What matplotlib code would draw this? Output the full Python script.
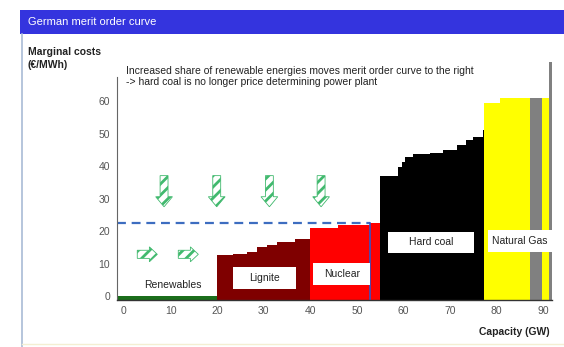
import matplotlib
matplotlib.use("Agg")
import matplotlib.pyplot as plt
from matplotlib.patches import Rectangle, FancyArrow

plt.rcParams['font.family'] = ['Liberation Sans', 'DejaVu Sans']
plt.rcParams['hatch.linewidth'] = 2.0

# ---- data (GW edges, marginal cost in EUR/MWh) ----
renew_edges = [0, 20]
renew_costs = [0]
lignite_edges = [20, 23.5, 26.3, 28.5, 30.6, 32.8, 36.7, 40]
lignite_costs = [12.6, 12.9, 13.6, 15.1, 15.7, 16.7, 17.6]
nuclear_edges = [40, 46, 52.8, 54.9]
nuclear_costs = [21.1, 21.9, 22.4]
coal_edges = [54.9, 58.9, 59.6, 60.3, 62.1, 65.7, 68.5, 71.4, 73.5, 75, 77.1, 77.3]
coal_costs = [37.0, 39.8, 41.4, 42.7, 43.7, 44.1, 45.0, 46.5, 48.1, 48.9, 51.1]
gas_edges = [77.3, 80.7, 87.1]
gas_costs = [59.4, 60.9]
oil_edges = [87.1, 89.6]
oil_costs = [60.9]
gas2_edges = [89.6, 91.1]
gas2_costs = [60.9]
peak_edges = [91.1, 91.8]
peak_costs = [72]

demand_gw = 52.8
price_level = 22.4

x_ticks = [0, 10, 20, 30, 40, 50, 60, 70, 80, 90]
y_ticks = [0, 10, 20, 30, 40, 50, 60]

down_arrow_x = [8.6, 19.9, 31.2, 42.3]
right_arrow_x = [2.85, 11.65]

labels = ["Lignite", "Nuclear", "Hard coal", "Natural Gas"]
label_boxes = [(23.5, 36.9, 2.1, 8.8), (40.6, 52.9, 3.4, 10.1),
               (56.7, 75.1, 13.2, 19.8), (78.1, 91.8, 13.6, 20.3)]

X_MIN, X_MAX = -1.5, 91.85
Y_MIN, Y_MAX = -1.23, 67.5

W, H = 564, 347
fig = plt.figure(figsize=(W / 100, H / 100), dpi=100)
fig.patch.set_facecolor('white')

def fx(px):
    return px / W

def fy(py):
    return 1 - py / H

# header bar
fig.patches.append(Rectangle((fx(20), fy(34)), fx(564) - fx(20), fy(10) - fy(34),
                             transform=fig.transFigure, facecolor='#3434de',
                             edgecolor='none', zorder=0))
fig.text(fx(28), fy(22), "German merit order curve", color='white', fontsize=8,
         va='center', ha='left')
# left border
fig.add_artist(plt.Line2D([fx(22), fx(22)], [fy(34), fy(347)], transform=fig.transFigure,
                          color='#a9bbd6', lw=1.2))
fig.add_artist(plt.Line2D([fx(22), fx(564)], [fy(344), fy(344)], transform=fig.transFigure,
                          color='#f4efd2', lw=1.0))

fig.text(fx(28), fy(52), "Marginal costs", fontsize=7.5, fontweight='bold',
         va='center', ha='left', color='#222222')
fig.text(fx(28), fy(65), "(€/MWh)", fontsize=7.5, fontweight='bold',
         va='center', ha='left', color='#222222')
fig.text(fx(550), fy(332), "Capacity (GW)", fontsize=7.5, fontweight='bold',
         va='center', ha='right', color='#222222')

ax = fig.add_axes([fx(117), fy(300), fx(552) - fx(117), fy(77) - fy(300)])
ax.set_xlim(X_MIN, X_MAX)
ax.set_ylim(Y_MIN, Y_MAX)


def draw_steps(edges, costs, color, left_override=None, clip=True):
    lefts = list(edges[:-1])
    widths = [edges[i + 1] - edges[i] for i in range(len(costs))]
    if left_override is not None:
        widths[0] += lefts[0] - left_override
        lefts[0] = left_override
    heights = [c - Y_MIN for c in costs]
    bars = ax.bar(lefts, heights, width=widths, bottom=Y_MIN, align='edge',
                  color=color, linewidth=0, zorder=2)
    for b in bars:
        b.set_clip_on(clip)


draw_steps(renew_edges, renew_costs, '#1b6e1b', left_override=X_MIN)
draw_steps(lignite_edges, lignite_costs, '#7f0000')
draw_steps(nuclear_edges, nuclear_costs, '#ff0000')
draw_steps(coal_edges, coal_costs, '#000000')
draw_steps(gas_edges, gas_costs, '#ffff00')
draw_steps(oil_edges, oil_costs, '#808080')
draw_steps(gas2_edges, gas2_costs, '#ffff00')
draw_steps(peak_edges, peak_costs, '#808080', clip=False)

# demand / price lines
ax.plot([X_MIN, demand_gw], [price_level, price_level], color='#3d6dc0', lw=1.6,
        dashes=(4, 2.6), zorder=4, solid_capstyle='butt')
ax.plot([demand_gw, demand_gw], [Y_MIN, price_level], color='#3355c8', lw=1.2, zorder=4)

# label boxes
for text, (x0, x1, y0, y1) in zip(labels, label_boxes):
    ax.add_patch(Rectangle((x0, y0), x1 - x0, y1 - y0, facecolor='white',
                           edgecolor='none', zorder=5))
    ax.text((x0 + x1) / 2, (y0 + y1) / 2, text, ha='center', va='center',
            fontsize=7.5, color='#222222', zorder=6)
ax.text(10.5, 3.4, "Renewables", ha='center', va='center', fontsize=7.5,
        color='#222222', zorder=6)

# arrows
green = '#41b96e'
for x in down_arrow_x:
    ax.add_patch(FancyArrow(x, 37.1, 0, -9.6, width=1.7, head_width=3.6,
                            head_length=3.1, length_includes_head=True,
                            facecolor='white', edgecolor=green, hatch='///',
                            linewidth=0.6, zorder=3))
for x in right_arrow_x:
    ax.add_patch(FancyArrow(x, 12.85, 4.3, 0, width=2.5, head_width=4.6,
                            head_length=1.7, length_includes_head=True,
                            facecolor='white', edgecolor=green, hatch='///',
                            linewidth=0.6, zorder=3))

# annotation text
fig.text(fx(126), fy(70.7), "Increased share of renewable energies moves merit order curve to the right",
         fontsize=7.5, va='center', ha='left', color='#222222')
fig.text(fx(126), fy(82.3), "-> hard coal is no longer price determining power plant",
         fontsize=7.5, va='center', ha='left', color='#222222')

# axes styling
for s in ['top', 'right']:
    ax.spines[s].set_visible(False)
ax.spines['left'].set_color('#666666')
ax.spines['left'].set_linewidth(0.8)
ax.spines['bottom'].set_color('#333333')
ax.spines['bottom'].set_linewidth(1.0)
ax.spines['left'].set_zorder(7)
ax.spines['bottom'].set_zorder(7)
ax.set_xticks(x_ticks)
ax.set_yticks(y_ticks)
ax.tick_params(length=0, labelsize=7.5, labelcolor='#555555')
ax.tick_params(axis='y', pad=5)
ax.tick_params(axis='x', pad=4)
ax.set_facecolor('white')

fig.savefig('out.png', dpi=100)
